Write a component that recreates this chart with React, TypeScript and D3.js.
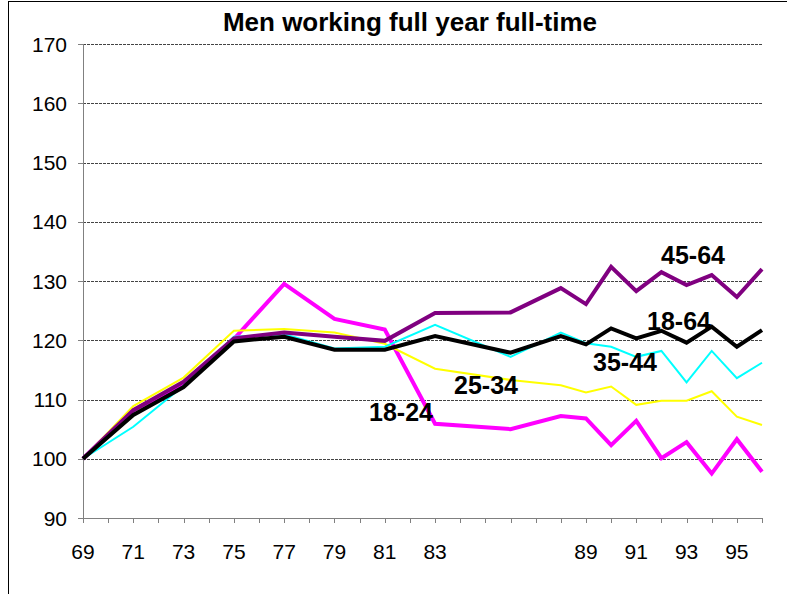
import * as d3 from "d3";

const years = [69, 71, 73, 75, 77, 79, 81, 83, 86, 88, 89, 90, 91, 92, 93, 94, 95, 96];
const tickYears = [69, 71, 73, 75, 77, 79, 81, 83, 89, 91, 93, 95];
const yTicks = [90, 100, 110, 120, 130, 140, 150, 160, 170];

const age1824 = [100, 108.2, 112.6, 120.2, 129.5, 123.6, 121.8, 105.9, 105.0, 107.2, 106.8, 102.3, 106.4, 100.1, 102.8, 97.5, 103.3, 97.8];
const age2534 = [100, 108.9, 113.7, 121.6, 121.9, 121.3, 119.4, 115.2, 113.3, 112.4, 111.2, 112.2, 109.1, 109.8, 109.8, 111.4, 107.1, 105.7];
const age3544 = [100, 105.4, 112.3, 120.6, 121.0, 118.6, 118.9, 122.6, 117.2, 121.3, 119.5, 118.9, 117.2, 118.2, 112.9, 118.2, 113.6, 116.2];
const age4564 = [100, 108.2, 113.0, 120.3, 121.3, 120.6, 119.9, 124.6, 124.7, 128.8, 126.1, 132.4, 128.3, 131.5, 129.3, 131.0, 127.3, 132.0];
const age1864 = [100, 107.4, 112.1, 119.8, 120.6, 118.4, 118.4, 120.7, 117.9, 120.7, 119.3, 122.0, 120.3, 121.6, 119.6, 122.3, 118.9, 121.7];

const series = [
  { name: "18-24", values: age1824, color: "#FF00FF", width: 4, label: [401, 421] },
  { name: "25-34", values: age2534, color: "#FFFF00", width: 2, label: [486, 394] },
  { name: "35-44", values: age3544, color: "#00FFFF", width: 2, label: [625, 371] },
  { name: "45-64", values: age4564, color: "#800080", width: 4, label: [693, 264] },
  { name: "18-64", values: age1864, color: "#000000", width: 4, label: [679, 330] },
];

const W = 787;
const H = 594;
const left = 83;
const right = 762;
const top = 44;
const bottom = 518;

export default function App() {
  const x = d3.scaleLinear().domain([69, 96]).range([left, right]);
  const y = d3.scaleLinear().domain([90, 170]).range([bottom, top]);
  const line = d3
    .line<number>()
    .x((_, i) => x(years[i]))
    .y((d) => y(d));
  const allYears = d3.range(69, 97);

  return (
    <svg
      width={W}
      height={H}
      style={{ position: "absolute", left: 0, top: 0, fontFamily: "Liberation Sans, Arial, sans-serif" }}
    >
      <rect x={0} y={0} width={W} height={H} fill="#fff" />
      <line x1={8.5} x2={8.5} y1={1} y2={H} stroke="#000" />
      <line x1={8} x2={W} y1={1.5} y2={1.5} stroke="#000" />
      <text x={410} y={31} textAnchor="middle" fontSize={26} fontWeight="bold">
        Men working full year full-time
      </text>
      {yTicks.slice(1).map((t) => (
        <line key={t} x1={left} x2={right} y1={Math.round(y(t)) + 0.5} y2={Math.round(y(t)) + 0.5}
          stroke="#444" strokeDasharray="3,1" />
      ))}
      <line x1={left + 0.5} x2={left + 0.5} y1={top} y2={bottom} stroke="#808080" />
      <line x1={left} x2={right} y1={bottom + 0.5} y2={bottom + 0.5} stroke="#808080" />
      {yTicks.map((t) => (
        <g key={t}>
          <line x1={left - 5} x2={left} y1={Math.round(y(t)) + 0.5} y2={Math.round(y(t)) + 0.5} stroke="#808080" />
          <text x={67} y={y(t)} dy="0.36em" textAnchor="end" fontSize={21}>{t}</text>
        </g>
      ))}
      {allYears.map((yr) => (
        <line key={yr} x1={Math.round(x(yr)) + 0.5} x2={Math.round(x(yr)) + 0.5} y1={bottom} y2={bottom + 5} stroke="#808080" />
      ))}
      {tickYears.map((yr) => (
        <text key={yr} x={x(yr)} y={551} dy="0.36em" textAnchor="middle" fontSize={21}>{yr}</text>
      ))}
      {series.map((s) => (
        <path key={s.name} d={line(s.values) || ""} fill="none" stroke={s.color} strokeWidth={s.width}
          strokeLinejoin="miter" />
      ))}
      {series.map((s) => (
        <text key={s.name + "l"} x={s.label[0]} y={s.label[1]} textAnchor="middle" fontSize={25} fontWeight="bold">
          {s.name}
        </text>
      ))}
    </svg>
  );
}
